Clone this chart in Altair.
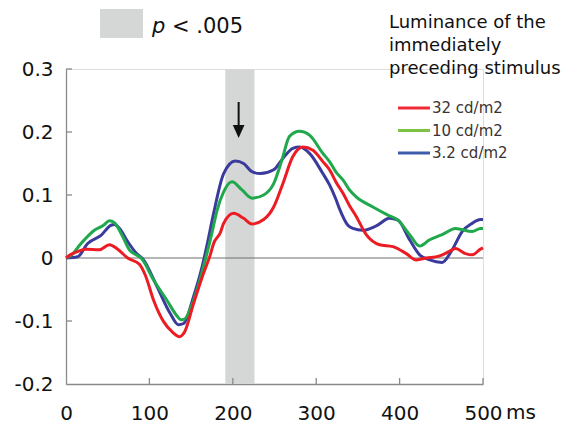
import altair as alt
import pandas as pd

# ---------------- data ----------------
series_names = ["32 cd/m2", "10 cd/m2", "3.2 cd/m2"]
line_colors = ["#ec1c24", "#20a84c", "#3a3b9c"]
legend_colors = ["#ee2a36", "#7dc243", "#3e5dad"]

red_ms = [0, 5, 10, 24, 40, 52, 62, 74, 88, 95, 105, 117, 128, 136, 142, 153, 165, 173, 177,
          185, 189, 201, 213, 223, 237, 249, 260, 272, 284, 296, 308, 316, 324, 332, 340, 348,
          360, 376, 392, 408, 420, 432, 447, 459, 467, 479, 487, 497, 500]
red_val = [0.0, 0.005, 0.008, 0.014, 0.013, 0.021, 0.014, 0.0, -0.01, -0.027, -0.067, -0.101,
           -0.118, -0.125, -0.118, -0.072, -0.024, 0.005, 0.023, 0.04, 0.055, 0.071, 0.063, 0.054,
           0.061, 0.081, 0.118, 0.161, 0.176, 0.171, 0.153, 0.14, 0.12, 0.103, 0.083, 0.066,
           0.037, 0.021, 0.018, 0.007, -0.003, 0.0, 0.003, 0.01, 0.015, 0.007, 0.005, 0.014, 0.016]

green_ms = [0, 5, 18, 34, 45, 52, 58, 68, 76, 84, 90, 105, 121, 132, 138, 142, 153, 167, 175,
            181, 189, 199, 211, 223, 237, 249, 259, 268, 280, 292, 308, 316, 324, 332, 340, 348,
            368, 386, 398, 412, 424, 436, 451, 467, 487, 497, 500]
green_val = [0.0, 0.003, 0.023, 0.044, 0.052, 0.059, 0.056, 0.034, 0.013, 0.005, 0.0, -0.035,
             -0.067, -0.09, -0.098, -0.097, -0.067, -0.003, 0.04, 0.075, 0.105, 0.121, 0.108,
             0.095, 0.1, 0.118, 0.156, 0.193, 0.201, 0.195, 0.166, 0.153, 0.136, 0.124, 0.108,
             0.097, 0.081, 0.068, 0.06, 0.037, 0.019, 0.029, 0.037, 0.047, 0.042, 0.047, 0.047]

blue_ms = [0, 14, 26, 42, 54, 58, 64, 74, 84, 93, 109, 125, 135, 141, 153, 163, 169, 177, 189,
           203, 213, 223, 233, 249, 260, 272, 280, 292, 308, 316, 324, 328, 338, 344, 356, 372,
           388, 398, 412, 424, 436, 451, 463, 475, 487, 497, 500]
blue_val = [0.0, 0.002, 0.023, 0.036, 0.052, 0.053, 0.047, 0.026, 0.008, -0.003, -0.045, -0.088,
            -0.106, -0.104, -0.061, -0.015, 0.02, 0.071, 0.134, 0.154, 0.15, 0.137, 0.134, 0.14,
            0.158, 0.174, 0.176, 0.166, 0.134, 0.116, 0.092, 0.078, 0.052, 0.047, 0.044, 0.051,
            0.063, 0.06, 0.029, 0.005, -0.003, -0.007, 0.013, 0.042, 0.055, 0.061, 0.061]

band_start, band_end = 191, 226
arrow_ms = 207

x_ticks = [0, 100, 200, 300, 400, 500]
y_ticks = [-0.2, -0.1, 0, 0.1, 0.2, 0.3]
legend_title = ["Luminance of the", "immediately", "preceding stimulus"]
sig_label = "< .005"

FONT = "DejaVu Sans"

# ---------------- tables ----------------
rows = []
for name, ms, vals in [(series_names[2], blue_ms, blue_val),
                       (series_names[1], green_ms, green_val),
                       (series_names[0], red_ms, red_val)]:
    for t, v in zip(ms, vals):
        rows.append({"series": name, "ms": t, "value": v})
df = pd.DataFrame(rows)

xs = alt.Scale(domain=[0, 500], nice=False, zero=False)
ys = alt.Scale(domain=[-0.2, 0.3], nice=False, zero=False)
one = alt.Data(values=[{}])

x_axis = alt.Axis(values=x_ticks, title=None, labelFontSize=20, labelFont=FONT,
                  labelColor="#111", labelPadding=19, ticks=False, tickSize=0,
                  domainColor="#8a8a8a", domainWidth=1.3, grid=False, labelFlush=False)
y_axis = alt.Axis(values=y_ticks, title=None, labelFontSize=20, labelFont=FONT,
                  labelColor="#111", labelPadding=13, ticks=False, tickSize=0,
                  domainColor="#8a8a8a", domainWidth=1.3, grid=False, labelFlush=False,
                  labelExpr="datum.value == 0 ? '0' : replace(format(datum.value, '.1f'), '\u2212', '-')")

band = alt.Chart(one).mark_rect(color="#d5d7d7").encode(
    x=alt.X(datum=band_start, scale=xs, axis=x_axis), x2=alt.datum(band_end),
    y=alt.value(0), y2=alt.value(315))

zero_line = alt.Chart(one).mark_rule(color="#6e6e6e", strokeWidth=1).encode(
    x=alt.value(0), x2=alt.value(417), y=alt.Y(datum=0, scale=ys, axis=y_axis))

xt = pd.DataFrame({"t": x_ticks[1:]})
x_tick_marks = alt.Chart(xt).mark_rule(color="#8a8a8a", strokeWidth=1.3).encode(
    x=alt.X("t:Q", scale=xs, axis=x_axis), y=alt.value(315), y2=alt.value(309))
yt = pd.DataFrame({"t": [v for v in y_ticks if v not in (0, -0.2)]})
y_tick_marks = alt.Chart(yt).mark_rule(color="#8a8a8a", strokeWidth=1.3).encode(
    y=alt.Y("t:Q", scale=ys, axis=y_axis), x=alt.value(0), x2=alt.value(6))

lines = alt.Chart(df).mark_line(strokeWidth=3, interpolate="monotone").encode(
    x=alt.X("ms:Q", scale=xs, axis=x_axis),
    y=alt.Y("value:Q", scale=ys, axis=y_axis),
    color=alt.Color("series:N", scale=alt.Scale(domain=series_names, range=line_colors),
                    legend=None),
)

arrow_shaft = alt.Chart(one).mark_rule(color="#111", strokeWidth=2).encode(
    x=alt.X(datum=arrow_ms, scale=xs, axis=x_axis), y=alt.value(33), y2=alt.value(58))
arrow_head = alt.Chart(one).mark_point(filled=True, color="#111", opacity=1,
                                       shape="M-0.9,-1L0.9,-1L0,1Z", size=169).encode(
    x=alt.X(datum=arrow_ms, scale=xs, axis=x_axis), y=alt.value(62.5))

ms_text = alt.Chart(one).mark_text(text="ms", font=FONT, fontSize=20, align="left",
                                   baseline="alphabetic", color="#111").encode(
    x=alt.value(440), y=alt.value(350))

sig_box = alt.Chart(one).mark_rect(color="#d5d7d7").encode(
    x=alt.value(34), x2=alt.value(77), y=alt.value(-60), y2=alt.value(-31))
sig_p = alt.Chart(one).mark_text(text="p", font=FONT, fontSize=21, fontStyle="italic",
                                 align="left", baseline="alphabetic", color="#111").encode(
    x=alt.value(86), y=alt.value(-36))
sig_txt = alt.Chart(one).mark_text(text=sig_label, font=FONT, fontSize=21, align="left",
                                   baseline="alphabetic", color="#111").encode(
    x=alt.value(106), y=alt.value(-36))

leg_title = alt.Chart(one).mark_text(text=legend_title, font=FONT, fontSize=18, align="left",
                                     baseline="alphabetic", lineHeight=23,
                                     color="#111").encode(
    x=alt.value(323), y=alt.value(-41))

legend_layers = []
for i, (name, col) in enumerate(zip(series_names, legend_colors)):
    yy = 39 + 22.5 * i
    legend_layers.append(alt.Chart(one).mark_rule(strokeWidth=3, color=col).encode(
        x=alt.value(332), x2=alt.value(364), y=alt.value(yy)))
    legend_layers.append(alt.Chart(one).mark_text(text=name, font=FONT, fontSize=15,
                                                  align="left", baseline="middle",
                                                  color="#3a3334").encode(
        x=alt.value(366), y=alt.value(yy)))

chart = alt.layer(
    band, zero_line, x_tick_marks, y_tick_marks, lines, arrow_shaft, arrow_head,
    ms_text, sig_box, sig_p, sig_txt, leg_title, *legend_layers
).properties(
    width=417, height=315,
    autosize=alt.AutoSizeParams(type="none"),
    padding={"left": 58, "top": 61, "right": 82, "bottom": 40},
).configure_view(stroke=None).configure(background="white")

chart.save("out.html", embed_options={"renderer": "svg", "actions": False})
